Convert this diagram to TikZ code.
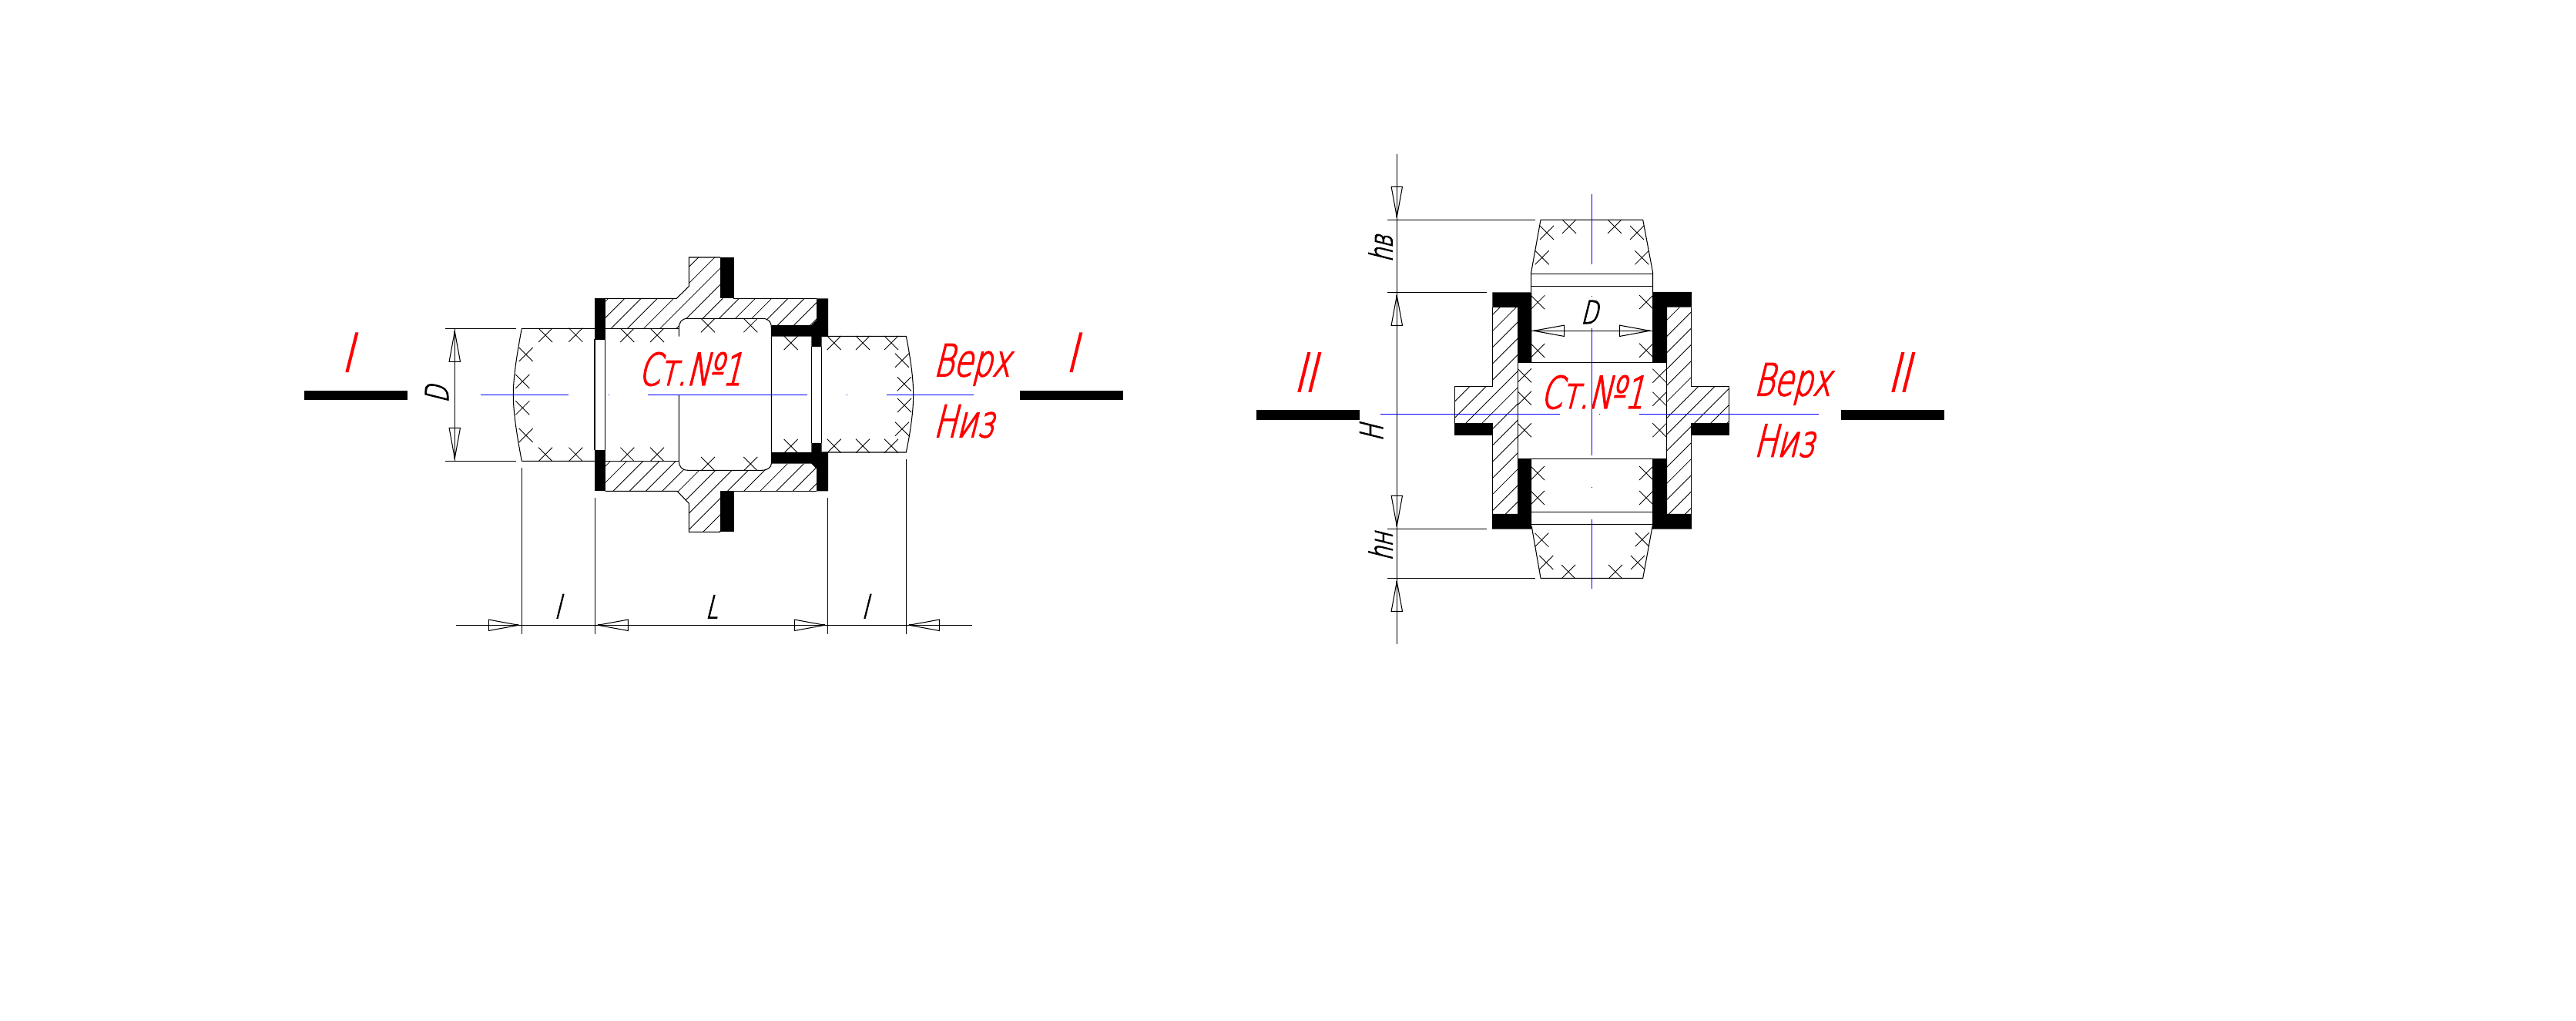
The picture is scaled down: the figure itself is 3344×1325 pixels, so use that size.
\documentclass[tikz,border=0pt]{standalone}
\usepackage{fontspec}
\setmainfont{DejaVu Sans ExtraLight}[FakeSlant=0.25,FakeStretch=0.69,FakeBold=2.5]
\newcommand{\redbig}{\fontsize{16.4pt}{18pt}\selectfont}
\newcommand{\redhuge}{\fontsize{19.5pt}{22pt}\selectfont}
\newcommand{\blk}{\fontsize{11.7pt}{13pt}\selectfont}
\definecolor{cadred}{RGB}{255,0,0}
\definecolor{cadblue}{RGB}{0,0,255}
\tikzset{
  ln/.style={black,line width=0.3pt},
  hl/.style={black,line width=0.24pt},
  xl/.style={black,line width=0.24pt},
  blk/.style={fill=black,draw=none},
  ctr/.style={cadblue,line width=0.3pt},
  redtxt/.style={text=cadred,inner sep=0pt,anchor=base west,font=\redbig},
  redsec/.style={text=cadred,inner sep=0pt,anchor=base west,font=\redhuge},
  dimtxt/.style={text=black,inner sep=0pt,font=\blk}
}
\newcommand{\xm}[2]{\draw[xl] (#1-9,#2-9)--(#1+9,#2+9) (#1-9,#2+9)--(#1+9,#2-9);}
\newcommand{\hatchfill}[2]{\begin{scope}\clip #1;\foreach \k in {-40,...,40}{\draw[hl] ({#2+21.2*\k},0)--(0,{#2+21.2*\k});}\end{scope}}
\newcommand{\varr}[3]{\draw[ln] (#1-7.2,#3)--(#1+7.2,#3)--(#1,#2)--cycle;\draw[black,line width=0.55pt] (#1,#2)--(#1,{#2+(#3-#2)*0.14});}
\newcommand{\harr}[3]{\draw[ln] (#3,#1-7.2)--(#3,#1+7.2)--(#2,#1)--cycle;\draw[black,line width=0.55pt] (#2,#1)--({#2+(#3-#2)*0.14},#1);}
\begin{document}
\begin{tikzpicture}[x=0.01cm,y=-0.01cm]
\useasboundingbox (0,0) rectangle (3344,1325);
\fill[white] (0,0) rectangle (3344,1325);

% ===== Drawing I =====
\hatchfill{(785.7,387.3)--(878.3,387.3)--(894.3,371.7)--(894.3,334)--(935,334)--(935,387.3)--(1060,387.3)--(1060,415)--(1053.3,422)--(1001.3,422)--(1001.3,425) .. controls (1001.3,417) and (997,413.3) .. (989,413.3)--(893,413.3) .. controls (885,413.3) and (881.3,418) .. (881.3,426.3)--(785.7,426.3)--cycle}{1198.3}
\hatchfill{(785.7,598.3)--(881.3,598.3) .. controls (881.3,605) and (885,610.3) .. (893,610.3)--(989,610.3) .. controls (997,610.3) and (1001.3,606) .. (1001.3,601.7)--(1053.3,601.7)--(1060,608.3)--(1060,637.3)--(935,637.3)--(935,690.3)--(894.3,690.3)--(894.3,653.3)--(879,637.3)--(785.7,637.3)--cycle}{1433.3}
% body outline
\draw[ln] (785.7,387.3)--(878.3,387.3)--(894.3,371.7)--(894.3,334)--(935,334);
\draw[ln] (952,387.3)--(1060,387.3);
\draw[ln] (785.7,637.3)--(879,637.3)--(894.3,653.3)--(894.3,690.3)--(935,690.3);
\draw[ln] (952,637.3)--(1060,637.3);
\draw[ln] (893,413.3)--(989,413.3) .. controls (997,413.3) and (1001.3,417) .. (1001.3,425)--(1001.3,601.7) .. controls (1001.3,606) and (997,610.3) .. (989,610.3)--(893,610.3) .. controls (885,610.3) and (881.3,605) .. (881.3,598.3)--(881.3,512.3);
\draw[ln] (881.3,436.7)--(881.3,426.3) .. controls (881.3,418) and (885,413.3) .. (893,413.3);
\draw[ln] (785.7,426.3)--(881.3,426.3) (785.7,598.3)--(881.3,598.3);
% specimen left
\draw[ln] (772,426.3)--(677.3,426.3) .. controls (669,470) and (666.3,495) .. (666.3,512.3) .. controls (666.3,530) and (669,555) .. (677.3,598.3)--(772,598.3);
% specimen right
\draw[ln] (1066.7,436.3)--(1176.3,436.3) .. controls (1183,470) and (1185.7,495) .. (1185.7,512.3) .. controls (1185.7,530) and (1183,555) .. (1176.3,587)--(1066.7,587);
% gaps
\draw[ln] (772,440)--(772,584) (785.7,440)--(785.7,584);
\draw[ln] (1053.3,450)--(1053.3,575) (1066.7,450)--(1066.7,575);
% black
\fill[blk] (772,387.3) rectangle (785.7,440.7);
\fill[blk] (772,584) rectangle (785.7,637.3);
\fill[blk] (935,334) rectangle (952.7,387.3);
\fill[blk] (935,637.3) rectangle (952.7,690.3);
\fill[blk] (1075,387.3)--(1060,387.3)--(1060,415)--(1053.3,422)--(1001.3,422)--(1001.3,436.7)--(1053.3,436.7)--(1053.3,450)--(1066.7,450)--(1066.7,436.3)--(1075,436.3)--cycle;
\fill[blk] (1075,637.3)--(1060,637.3)--(1060,608.3)--(1053.3,601.7)--(1001.3,601.7)--(1001.3,587)--(1053.3,587)--(1053.3,575)--(1066.7,575)--(1066.7,587)--(1075,587)--cycle;
% crosses
\xm{708}{435}\xm{747.3}{434.7}\xm{682.7}{460}\xm{678.3}{495}\xm{678.3}{529.3}\xm{682.7}{565}\xm{708}{589.7}\xm{747.3}{589.7}
\xm{814.3}{435}\xm{853}{435}\xm{814.3}{589.7}\xm{853}{589.7}
\xm{919}{422.3}\xm{974.3}{422.3}\xm{919}{602}\xm{974.3}{602}
\xm{1026.7}{445}\xm{1026.7}{579}
\xm{1082.7}{445}\xm{1120}{445}\xm{1157}{445}\xm{1082.7}{578.7}\xm{1120}{578.7}\xm{1157}{578.7}
\xm{1171}{467.7}\xm{1173.7}{498.3}\xm{1174}{526}\xm{1171}{556.7}
% centre line
\draw[ctr] (624,512.3)--(738,512.3) (790,512.3)--(791,512.3) (841,512.3)--(1048,512.3) (1099,512.3)--(1100,512.3) (1151,512.3)--(1264,512.3);
% section bars
\fill[blk] (395,507) rectangle (529,519);
\fill[blk] (1324,507) rectangle (1458,519);
% dimensions
\draw[ln] (578.3,426.3)--(670,426.3) (578.3,598.3)--(670,598.3) (590.3,426.3)--(590.3,598.3);
\varr{590.3}{430}{469.3}\varr{590.3}{595}{555.3}
\draw[ln] (592,811.3)--(1261.7,811.3);
\draw[ln] (677.3,607.3)--(677.3,823.3) (772.3,646)--(772.3,823.3) (1074.3,646)--(1074.3,823.3) (1176.3,596)--(1176.3,823.3);
\harr{811.3}{673.3}{634.3}\harr{811.3}{776}{815.3}\harr{811.3}{1070.7}{1031.3}\harr{811.3}{1180}{1219.3}
% texts
\node[redsec] (secIa) at (443,482.3) {I};
\node[redsec] (secIb) at (1383,482.3) {I};
\node[redtxt] (st1) at (828,500) {Ст.№1};
\node[redtxt] (up1) at (1211,488.3) {Верх};
\node[redtxt] (dn1) at (1211,567.3) {Низ};
\node[dimtxt,rotate=90] (dimD1) at (567,512) {D};
\node[dimtxt,anchor=base west] (diml1) at (719,802.5) {l};
\node[dimtxt,anchor=base west] (diml2) at (1118,802.5) {l};
\node[dimtxt,anchor=base] (dimL) at (923.6,802.5) {L};

% ===== Drawing II =====
\hatchfill{(1937.3,399)--(1970.3,399)--(1970.3,667)--(1937.3,667)--(1937.3,549)--(1888.3,549)--(1888.3,501.3)--(1937.3,501.3)--cycle}{2600.3}
\hatchfill{(2163.5,398.7)--(2195.3,398.7)--(2195.3,501.3)--(2244.7,501.3)--(2244.7,549)--(2195.3,549)--(2195.3,667)--(2163.5,667)--cycle}{2600.3}
\draw[ln] (1937.3,399)--(1937.3,501.3)--(1888.3,501.3)--(1888.3,549) (1937.3,565)--(1937.3,667) (1970.3,399)--(1970.3,667);
\draw[ln] (2195.3,399)--(2195.3,501.3)--(2244.7,501.3)--(2244.7,549) (2195.3,565)--(2195.3,667) (2163.5,399)--(2163.5,667);
% specimen
\draw[ln] (1987.7,379)--(1987.7,353.3)--(2000,285.3)--(2132.7,285.3)--(2145.5,353.3)--(2145.5,379);
\draw[ln] (1987.7,355.3)--(2145.5,355.3) (1987.7,371.7)--(2145.5,371.7);
\draw[ln] (1970.3,470.3)--(2163.5,470.3) (1970.3,595.3)--(2163.5,595.3);
\draw[ln] (1987.7,664.3)--(2145.5,664.3) (1987.7,680.3)--(2145.5,680.3);
\draw[ln] (1988.3,683.3)--(2000,750.3)--(2132.7,750.3)--(2145,683.3);
% black
\fill[blk] (1937.3,379.3)--(1988.3,379.3)--(1988.3,470.3)--(1970.3,470.3)--(1970.3,399)--(1937.3,399)--cycle;
\fill[blk] (1970.3,595.3)--(1988,595.3)--(1988,686.7)--(1937,686.7)--(1937,667)--(1970.3,667)--cycle;
\fill[blk] (2145,379)--(2196,379)--(2196,398.7)--(2164,398.7)--(2164,470.3)--(2145,470.3)--cycle;
\fill[blk] (2145,595.3)--(2164,595.3)--(2164,667)--(2196,667)--(2196,686.7)--(2145,686.7)--cycle;
\fill[blk] (1888.3,549) rectangle (1937.7,565);
\fill[blk] (2195.3,549) rectangle (2245,565);
% crosses
\xm{2008}{302}\xm{2037}{294}\xm{2096}{294}\xm{2125}{302}\xm{2001.7}{334.3}\xm{2131.3}{334.3}
\xm{1996.3}{392.3}\xm{1996.3}{455}\xm{2137}{392}\xm{2137}{454.7}
\xm{1979}{487.3}\xm{1979}{516.7}\xm{1979}{558.3}\xm{2154.3}{487.7}\xm{2154.3}{517.7}\xm{2154.3}{558.3}
\xm{1996}{614}\xm{1996}{646}\xm{2137}{614}\xm{2137}{646}
\xm{2001.3}{700.7}\xm{2007.3}{730}\xm{2036}{742}\xm{2097}{742}\xm{2131.7}{700.3}\xm{2126}{730}
% centre lines
\draw[ctr] (2066.7,252)--(2066.7,342.7) (2066.7,384)--(2066.7,385) (2066.7,426)--(2066.7,590.7) (2066.7,632)--(2066.7,633) (2066.7,674)--(2066.7,763.7);
\draw[ctr] (1792,537.3)--(2025,537.3) (2076,537.3)--(2077,537.3) (2128,537.3)--(2360.7,537.3);
% section bars
\fill[blk] (1631,532) rectangle (1765,545);
\fill[blk] (2390,532) rectangle (2524,545);
% dimensions
\draw[ln] (1813.3,200)--(1813.3,835.7);
\draw[ln] (1801,285.3)--(1992.7,285.3) (1801,379.3)--(1929.7,379.3) (1801,686.3)--(1929.7,686.3) (1801,750.3)--(1992.7,750.3);
\varr{1813.3}{281.7}{242.3}\varr{1813.3}{383.3}{422.3}\varr{1813.3}{682.7}{643.3}\varr{1813.3}{754.3}{793.3}
\draw[ln] (1988,429.3)--(2145,429.3);
\harr{429.3}{1991}{2030.7}\harr{429.3}{2141.7}{2102.3}
% texts
\node[redsec] (secIIa) at (1679,508) {II};
\node[redsec] (secIIb) at (2450,508) {II};
\node[redtxt] (st2) at (1999,530) {Ст.№1};
\node[redtxt] (up2) at (2276,513.3) {Верх};
\node[redtxt] (dn2) at (2276,592.7) {Низ};
\node[dimtxt] (dimD2) at (2063,405) {D};
\node[dimtxt,rotate=90] (dimhv) at (1792,323) {hв};
\node[dimtxt,rotate=90] (dimH) at (1780,562) {H};
\node[dimtxt,rotate=90] (dimhn) at (1792,709.5) {hн};
\end{tikzpicture}
\end{document}
